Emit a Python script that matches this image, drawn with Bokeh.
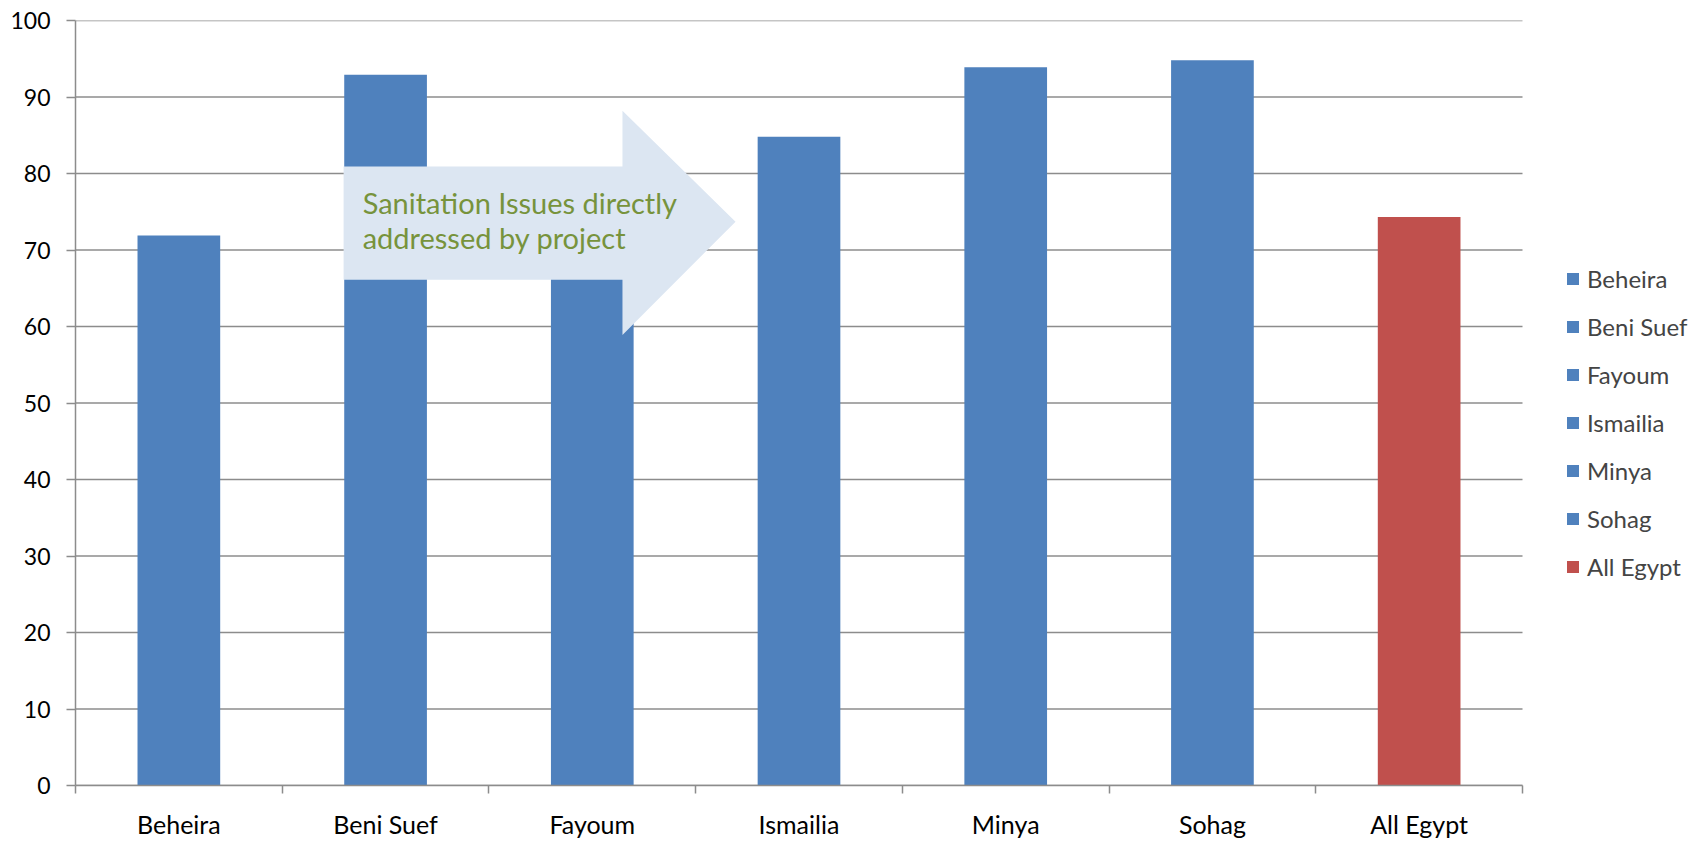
from bokeh.plotting import figure
from bokeh.models import (ColumnDataSource, Range1d, FixedTicker, Legend, LegendItem)
from bokeh.core.properties import value
from bokeh.embed import file_html
from bokeh.resources import INLINE

# Share of households (%) by governorate
categories = ["Beheira", "Beni Suef", "Fayoum", "Ismailia", "Minya", "Sohag", "All Egypt"]
values = [71.9, 92.9, 75.0, 84.8, 93.9, 94.8, 74.3]
bar_colors = ["#4F81BD", "#4F81BD", "#4F81BD", "#4F81BD", "#4F81BD", "#4F81BD", "#C0504D"]
y_ticks = [0, 10, 20, 30, 40, 50, 60, 70, 80, 90, 100]
callout_lines = ["Sanitation Issues directly", "addressed by project"]

FONT = "Lato"
GRID = "#8C8C8C"
LINE_W = 1.5

n = len(categories)
centers = [i + 0.5 for i in range(n)]
source = ColumnDataSource(data=dict(x=centers, top=values, color=bar_colors, cat=categories))

# The frame runs to the right edge so the legend sits inside it; the
# axis and gridlines are limited to the category span.
PLOT_PX, FRAME_PX = 1447, 1630
x_end = n * FRAME_PX / PLOT_PX

p = figure(width=1705, height=841, output_backend="svg", toolbar_location=None,
           x_range=Range1d(0, x_end), y_range=Range1d(0, 100),
           min_border_left=75, min_border_right=0, min_border_top=20, min_border_bottom=50)
p.outline_line_color = None
p.background_fill_color = "white"
p.border_fill_color = "white"
p.xgrid.visible = False
p.ygrid.visible = False

# Horizontal gridlines across the category span only
p.multi_line(xs=[[0, n] for _ in y_ticks], ys=[[t, t] for t in y_ticks],
             line_color=GRID, line_width=LINE_W)

bars = p.vbar(x="x", top="top", width=0.4, bottom=0, color="color", line_color=None, source=source)

# Callout arrow across the middle of the chart (x in category units, y in %)
arrow_x = [1.297, 2.646, 2.646, 3.193, 2.646, 2.646, 1.297]
arrow_y = [80.9, 80.9, 88.2, 73.7, 58.9, 66.1, 66.1]
p.patch(arrow_x, arrow_y, fill_color="#DCE6F2", line_color=None)
p.text(x=[1.389, 1.389], y=[76.2, 71.6], text=callout_lines,
       text_font=value(FONT), text_font_size="29px", text_color="#77933C",
       text_baseline="alphabetic", text_align="left")

# Axes
xa = p.xaxis[0]
xa.bounds = (0, n)
xa.ticker = FixedTicker(ticks=centers, minor_ticks=list(range(n + 1)))
xa.major_label_overrides = {c: name for c, name in zip(centers, categories)}
xa.major_tick_line_color = None
xa.minor_tick_in = 0
xa.minor_tick_out = 8
xa.minor_tick_line_color = GRID
xa.minor_tick_line_width = LINE_W
xa.axis_line_color = GRID
xa.axis_line_width = LINE_W
xa.major_label_text_font = FONT
xa.major_label_text_font_size = "25px"
xa.major_label_text_color = "black"
xa.major_label_standoff = 15

ya = p.yaxis[0]
ya.ticker = FixedTicker(ticks=y_ticks)
ya.minor_tick_line_color = None
ya.major_tick_in = 0
ya.major_tick_out = 9
ya.major_tick_line_color = GRID
ya.major_tick_line_width = LINE_W
ya.axis_line_color = GRID
ya.axis_line_width = LINE_W
ya.major_label_text_font = FONT
ya.major_label_text_font_size = "23px"
ya.major_label_text_color = "black"
ya.major_label_standoff = 16

legend = Legend(items=[LegendItem(label=value(c), renderers=[bars], index=i) for i, c in enumerate(categories)],
                location=(1490, 204), margin=0, padding=0, spacing=19,
                glyph_width=15, glyph_height=15, label_height=29, label_standoff=7,
                label_text_font=FONT, label_text_font_size="24px",
                border_line_color=None, background_fill_alpha=0)
p.add_layout(legend)

open("out.html", "w").write(file_html(p, INLINE))
